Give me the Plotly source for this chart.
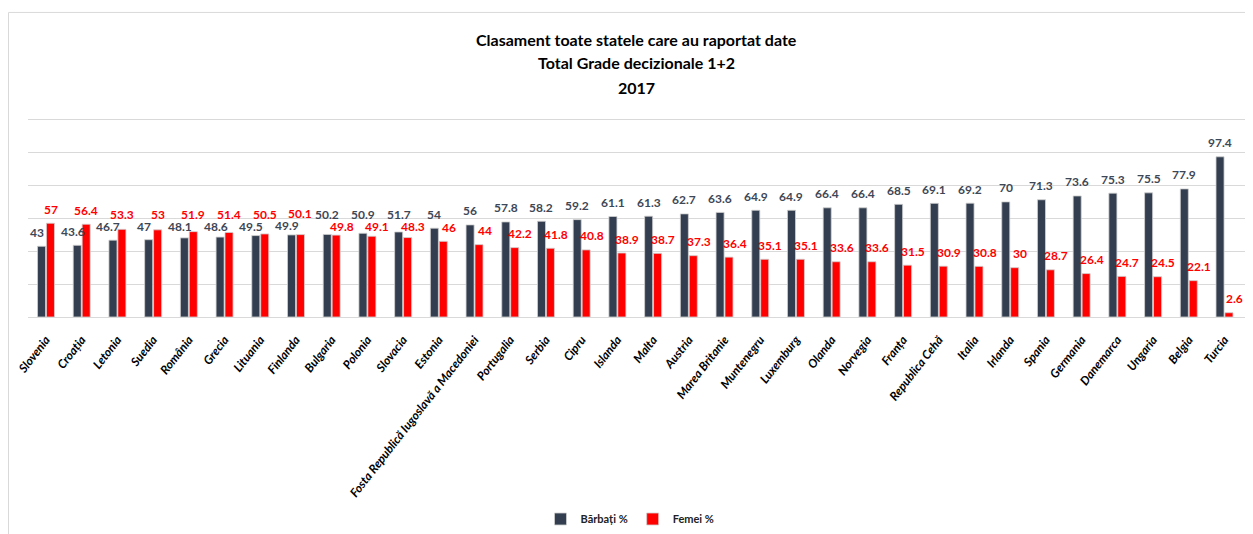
import plotly.graph_objects as go

countries = ["Slovenia", "Croația", "Letonia", "Suedia", "România", "Grecia", "Lituania",
             "Finlanda", "Bulgaria", "Polonia", "Slovacia", "Estonia",
             "Fosta Republică Iugoslavă a Macedoniei", "Portugalia", "Serbia", "Cipru",
             "Islanda", "Malta", "Austria", "Marea Britanie", "Muntenegru", "Luxemburg",
             "Olanda", "Norvegia", "Franța", "Republica Cehă", "Italia", "Irlanda",
             "Spania", "Germania", "Danemarca", "Ungaria", "Belgia", "Turcia"]
barbati = [43, 43.6, 46.7, 47, 48.1, 48.6, 49.5, 49.9, 50.2, 50.9, 51.7, 54, 56, 57.8,
           58.2, 59.2, 61.1, 61.3, 62.7, 63.6, 64.9, 64.9, 66.4, 66.4, 68.5, 69.1, 69.2,
           70, 71.3, 73.6, 75.3, 75.5, 77.9, 97.4]
femei = [57, 56.4, 53.3, 53, 51.9, 51.4, 50.5, 50.1, 49.8, 49.1, 48.3, 46, 44, 42.2,
         41.8, 40.8, 38.9, 38.7, 37.3, 36.4, 35.1, 35.1, 33.6, 33.6, 31.5, 30.9, 30.8,
         30, 28.7, 26.4, 24.7, 24.5, 22.1, 2.6]
title_lines = ["Clasament toate statele care au raportat date",
               "Total Grade decizionale 1+2", "2017"]

W, H = 1253, 534
OFF = 8  # default page (body) margin of the html page
UNIT_PX = 197 / 120  # pixels per percentage point in the reference
YMAX = 121
ML, MR, MB = 20, 16, 225
MT = H - MB - YMAX * UNIT_PX
plot_h = H - MT - MB
plot_w = W - ML - MR
scale = plot_h / YMAX


def px_x(sx):  # screen x -> paper x
    return (sx - OFF - ML) / plot_w


def px_y(sy):  # screen y -> paper y
    return (H - MB - (sy - OFF)) / plot_h


DARK = "#333F50"
RED = "#FF0000"
DARK_TXT = "#3E4756"
FONT = "Lato, sans-serif"

fig = go.Figure()
fig.add_trace(go.Bar(x=countries, y=barbati, name="Bărbați %", marker_color=DARK,
                     marker_line=dict(color="#D0D0D0", width=0.8)))
fig.add_trace(go.Bar(x=countries, y=femei, name="Femei %", marker_color=RED,
                     marker_line=dict(color="#D0D0D0", width=0.8)))

# data labels with simple collision avoidance
base = 14
sep = 12
annotations = []
for c, m, f in zip(countries, barbati, femei):
    ym = base
    yf = base
    if m >= f:
        xm, xf = -4.5, 10
    else:
        xm, xf = -9, 4.5
    dpx = (m - f) * scale
    if abs(dpx) < sep:
        need = sep - abs(dpx)
        down = min(need / 2, 5)
        up = need - down
        if m >= f:
            ym += up
            yf -= down
        else:
            yf += up
            ym -= down
    annotations.append(dict(x=c, y=m, text=f"{m:g}", showarrow=False, xref="x", yref="y",
                            xshift=xm, yshift=ym, yanchor="middle",
                            font=dict(family=FONT, size=12, color=DARK_TXT, weight="bold")))
    annotations.append(dict(x=c, y=f, text=f"{f:g}", showarrow=False, xref="x", yref="y",
                            xshift=xf, yshift=yf, yanchor="middle",
                            font=dict(family=FONT, size=12, color=RED, weight="bold")))

for txt, sy in zip(title_lines, [40, 63, 88]):
    annotations.append(dict(x=px_x(636), y=px_y(sy), xref="paper", yref="paper", text=txt,
                            showarrow=False, xanchor="center", yanchor="middle",
                            font=dict(family=FONT, size=16, color="black", weight="bold")))

fig.update_layout(
    width=W, height=H,
    margin=dict(l=ML, r=MR, t=MT, b=MB, autoexpand=False),
    paper_bgcolor="white", plot_bgcolor="white",
    barmode="group", bargap=0.5, bargroupgap=0.1,
    legend=dict(orientation="h", x=px_x(630), xanchor="center",
                y=1 - (519 - OFF) / H, yref="container", yanchor="middle",
                font=dict(family=FONT, size=11, color="#222", weight="bold"),
                itemwidth=30, tracegroupgap=0),
    annotations=annotations,
    showlegend=True,
)
fig.update_yaxes(range=[0, YMAX], tickvals=[0, 20, 40, 60, 80, 100, 120],
                 showticklabels=False, showgrid=True,
                 gridcolor="#D9D9D9", gridwidth=1, zeroline=True, zerolinecolor="#D9D9D9",
                 zerolinewidth=1, fixedrange=True, automargin=False)
fig.update_xaxes(tickangle=-52, ticks="outside", ticklen=10, tickcolor="rgba(0,0,0,0)",
                 tickfont=dict(family=FONT, size=12, color="black", weight="bold", style="italic"),
                 showline=False, automargin=False)
# outer chart border
fig.add_shape(type="rect", xref="paper", yref="paper",
              x0=px_x(8.5), x1=px_x(1275), y0=px_y(560), y1=px_y(13),
              line=dict(color="#D9D9D9", width=1), fillcolor="rgba(0,0,0,0)", layer="below")

fig.write_html("out.html")
